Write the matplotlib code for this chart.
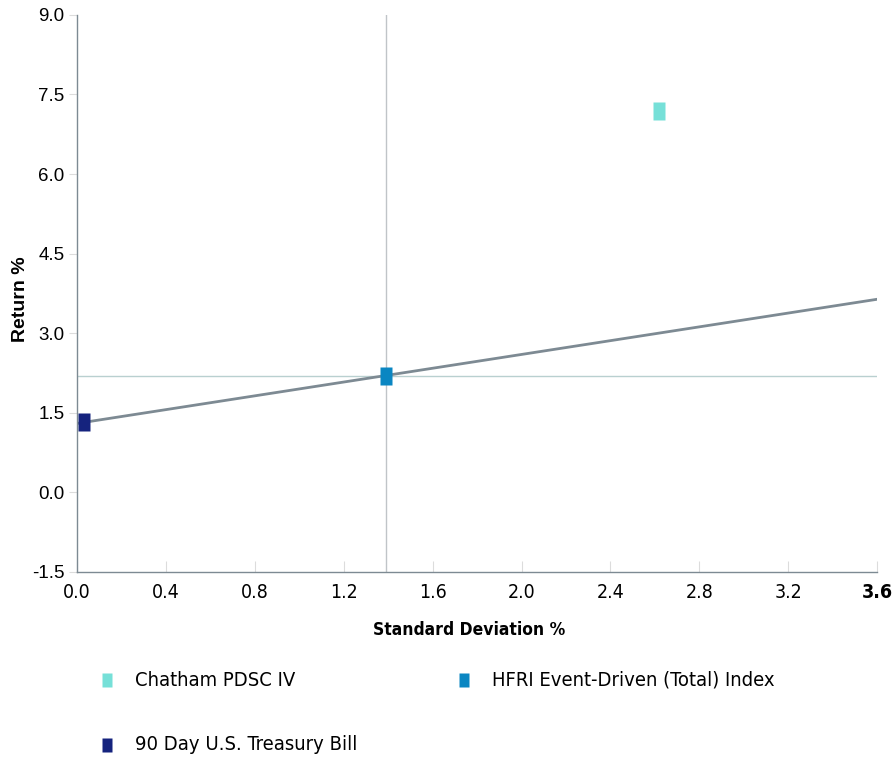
import matplotlib
matplotlib.use("Agg")
import matplotlib.pyplot as plt
from matplotlib import font_manager
from matplotlib.lines import Line2D

names = ["Chatham PDSC IV", "HFRI Event-Driven (Total) Index", "90 Day U.S. Treasury Bill"]
std_dev = [2.62, 1.39, 0.03]
returns = [7.19, 2.19, 1.32]
colors = ["#76e0d8", "#0a86c2", "#15237e"]

# market line (risk free through index)
line_x = [0.0, 3.6]
line_y = [1.30, 3.64]

xticks = [0.0, 0.4, 0.8, 1.2, 1.6, 2.0, 2.4, 2.8, 3.2, 3.6]
yticks = [-1.5, 0.0, 1.5, 3.0, 4.5, 6.0, 7.5, 9.0]

# condensed face for the narrow labels if there is one
cond = [f for f in font_manager.fontManager.ttflist
        if f.name == "DejaVu Sans" and "ondensed" in f.fname]
if cond:
    narrow = dict(family="DejaVu Sans", stretch="condensed")
else:
    narrow = dict(family="Liberation Sans")
arial = dict(family=["Liberation Sans", "DejaVu Sans"])

rect = [(-0.72, -1), (0.72, -1), (0.72, 1), (-0.72, 1), (-0.72, -1)]

fig = plt.figure(figsize=(8.96, 7.58), dpi=100)
ax = fig.add_axes([0.086, 0.2454, 0.893, 0.735])

ax.axvline(std_dev[1], color="#c0c4c8", lw=1, zorder=1)
ax.axhline(returns[1], color="#b9d0d0", lw=1, zorder=1)
ax.plot(line_x, line_y, color="#7d8a93", lw=2, zorder=2)

for x, y, c in zip(std_dev, returns, colors):
    ax.plot([x], [y], marker=rect, markersize=12.3, color=c, markeredgecolor="none",
            linestyle="none", zorder=3)

ax.set_xlim(0, 3.6)
ax.set_ylim(-1.5, 9.0)
ax.set_xticks(xticks)
ax.set_yticks(yticks)
ax.set_xticklabels([f"{v:.1f}" for v in xticks], fontsize=14, **narrow)
ax.set_yticklabels([f"{v:.1f}" for v in yticks], fontsize=13.5, **arial)
ax.get_xticklabels()[-1].set_fontweight("bold")

for s in ["top", "right"]:
    ax.spines[s].set_visible(False)
for s in ["left", "bottom"]:
    ax.spines[s].set_color("#7d8a93")
    ax.spines[s].set_linewidth(1)

ax.tick_params(axis="x", direction="in", length=8, color="#dcdcdc", pad=8)
ax.tick_params(axis="y", direction="out", length=6, color="#dcdcdc", pad=3)

ax.set_xlabel("Standard Deviation %", fontsize=12.5, fontweight="bold", **narrow)
ax.xaxis.set_label_coords(0.49, -0.088)
ax.set_ylabel("Return %", fontsize=14, fontweight="bold", **arial)
ax.yaxis.set_label_coords(-0.06, 0.49)

# legend laid out by hand: two per row
W, H = 896.0, 758.0
leg_pos = [(107, 680), (464, 680), (107, 745)]
for (px, py), c, n in zip(leg_pos, colors, names):
    fig.add_artist(Line2D([px / W], [1 - py / H], marker=rect, markersize=10, color=c,
                          markeredgecolor="none", linestyle="none",
                          transform=fig.transFigure))
    fig.text((px + 28) / W, 1 - py / H, n, fontsize=14.5, va="center", ha="left", **narrow)

fig.savefig("out.png", dpi=100)
